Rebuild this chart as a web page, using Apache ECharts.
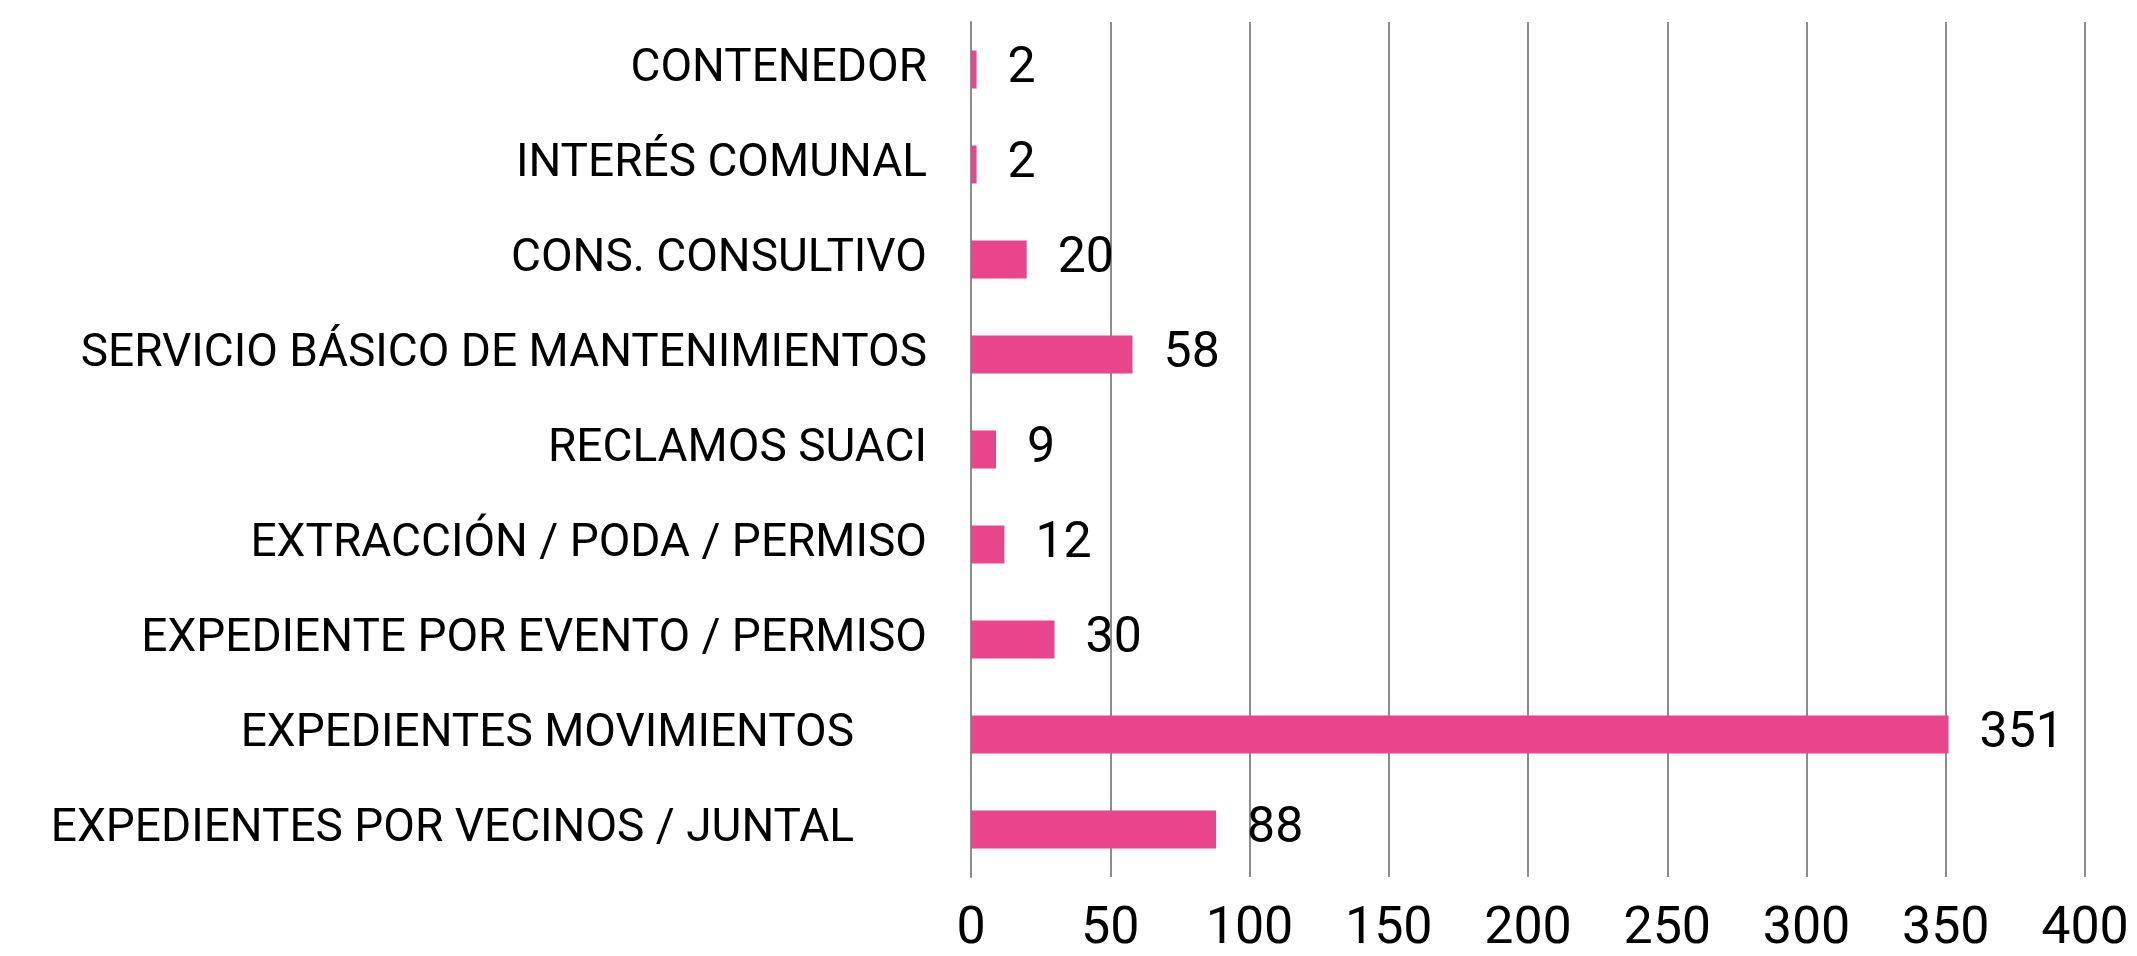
<!DOCTYPE html>
<html>
<head>
<meta charset="utf-8">
<script src="https://cdn.jsdelivr.net/npm/echarts@6/dist/echarts.min.js"></script>
<style>
  html, body { margin: 0; padding: 0; background: #fff; }
  #chart { width: 2137px; height: 956px; }
</style>
</head>
<body>
<div id="chart"></div>
<script>
// Categories, top to bottom
const categories = [
  'CONTENEDOR',
  'INTERÉS COMUNAL',
  'CONS. CONSULTIVO',
  'SERVICIO BÁSICO DE MANTENIMIENTOS',
  'RECLAMOS SUACI',
  'EXTRACCIÓN / PODA / PERMISO',
  'EXPEDIENTE POR EVENTO / PERMISO',
  'EXPEDIENTES MOVIMIENTOS',
  'EXPEDIENTES POR VECINOS / JUNTAL'
];
const values = [2, 2, 20, 58, 9, 12, 30, 351, 88];
const xTicks = { min: 0, max: 400, interval: 50 };

// the last two labels sit further left in the original
const shiftedLabels = ['EXPEDIENTES MOVIMIENTOS', 'EXPEDIENTES POR VECINOS / JUNTAL'];

const pink = '#E9458C';
const gridGray = '#8c8c8c';
const font = 'Roboto, "Noto Sans", sans-serif';

const chart = echarts.init(document.getElementById('chart'));

chart.setOption({
  animation: false,
  backgroundColor: '#fff',
  grid: { left: 971, right: 52, top: 22, bottom: 72, containLabel: false },
  xAxis: {
    type: 'value',
    min: xTicks.min,
    max: xTicks.max,
    interval: xTicks.interval,
    axisLine: { show: false },
    axisTick: { show: false },
    axisLabel: {
      color: '#000',
      fontFamily: font,
      fontSize: 52,
      margin: 27
    },
    splitLine: {
      show: true,
      lineStyle: { color: gridGray, width: 2 }
    }
  },
  yAxis: {
    type: 'category',
    inverse: true,
    data: categories,
    axisLine: { show: true, lineStyle: { color: gridGray, width: 2 } },
    axisTick: { show: false },
    axisLabel: {
      color: '#000',
      fontFamily: font,
      fontSize: 46,
      margin: 44,
      formatter: value => (shiftedLabels.includes(value) ? '{s|' + value + '}' : value),
      rich: {
        s: {
          color: '#000',
          fontFamily: font,
          fontSize: 46,
          padding: [0, 73, 0, 0]
        }
      }
    }
  },
  series: [
    {
      type: 'bar',
      data: values,
      barWidth: 38,
      itemStyle: { color: pink },
      label: {
        show: true,
        position: 'right',
        distance: 31,
        color: '#000',
        fontFamily: font,
        fontSize: 50
      }
    }
  ]
});
</script>
</body>
</html>
